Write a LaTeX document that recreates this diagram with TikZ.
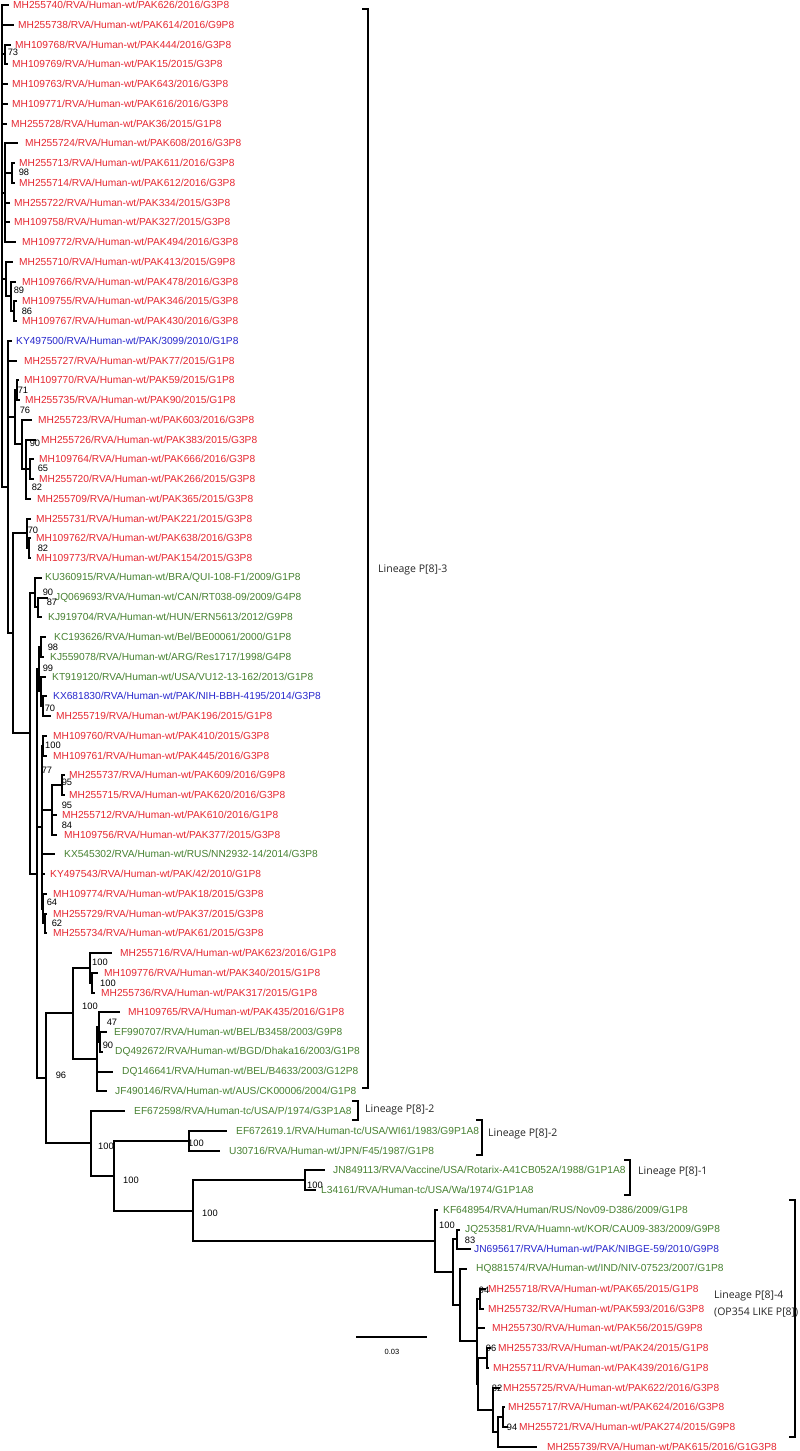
\documentclass[tikz,border=0pt]{standalone}
\usepackage{fontspec}
\setmainfont{Liberation Sans}
\newfontfamily\linfont{Open Sans}
\usetikzlibrary{calc}
\definecolor{tred}{RGB}{230,40,50}
\definecolor{tgreen}{RGB}{72,130,50}
\definecolor{tblue}{RGB}{40,40,205}
\tikzset{
  br/.style={line width=2.0pt},
  brk/.style={line width=2.2pt},
  lab/.style={font=\fontsize{10.2}{12}\selectfont, inner sep=0pt, anchor=west},
  bs/.style={font=\fontsize{9.3}{10}\selectfont, inner sep=0pt},
  lin/.style={font=\linfont\fontsize{10.5}{12}\selectfont, inner sep=0pt, anchor=west, text=black!85},
}
\newcommand{\lf}[5]{\pgfmathsetmacro{\yy}{5+(#1-1)*19.75}%
  \coordinate (t#1) at (#2,\yy);
  \node[lab,text=#4] (l#1) at (#3,\yy) {#5};}
\newcommand{\inode}[4]{\path let \p1=(#3), \p2=(#4) in coordinate (#1) at (#2pt,{(\y1+\y2)/2});}
\newcommand{\kids}[2]{\foreach \c in {#2} {\draw[br] (#1) |- (\c);}}
\begin{document}
\begin{tikzpicture}[x=1pt,y=-1pt]
\fill[white] (0,0) rectangle (800,1451);
\useasboundingbox (0,0) rectangle (800,1451);
% ---------------- leaves ----------------
\lf{1}{9}{13}{tred}{MH255740/RVA/Human-wt/PAK626/2016/G3P8}
\lf{2}{14}{18}{tred}{MH255738/RVA/Human-wt/PAK614/2016/G9P8}
\lf{3}{11}{15}{tred}{MH109768/RVA/Human-wt/PAK444/2016/G3P8}
\lf{4}{8}{12}{tred}{MH109769/RVA/Human-wt/PAK15/2015/G3P8}
\lf{5}{8}{12}{tred}{MH109763/RVA/Human-wt/PAK643/2016/G3P8}
\lf{6}{8}{12}{tred}{MH109771/RVA/Human-wt/PAK616/2016/G3P8}
\lf{7}{7}{11}{tred}{MH255728/RVA/Human-wt/PAK36/2015/G1P8}
\lf{8}{18}{25}{tred}{MH255724/RVA/Human-wt/PAK608/2016/G3P8}
\lf{9}{15}{19}{tred}{MH255713/RVA/Human-wt/PAK611/2016/G3P8}
\lf{10}{15}{19}{tred}{MH255714/RVA/Human-wt/PAK612/2016/G3P8}
\lf{11}{10}{14}{tred}{MH255722/RVA/Human-wt/PAK334/2015/G3P8}
\lf{12}{10}{14}{tred}{MH109758/RVA/Human-wt/PAK327/2015/G3P8}
\lf{13}{16}{22}{tred}{MH109772/RVA/Human-wt/PAK494/2016/G3P8}
\lf{14}{13}{19}{tred}{MH255710/RVA/Human-wt/PAK413/2015/G9P8}
\lf{15}{16}{22}{tred}{MH109766/RVA/Human-wt/PAK478/2016/G3P8}
\lf{16}{17}{22}{tred}{MH109755/RVA/Human-wt/PAK346/2015/G3P8}
\lf{17}{17}{22}{tred}{MH109767/RVA/Human-wt/PAK430/2016/G3P8}
\lf{18}{12}{16}{tblue}{KY497500/RVA/Human-wt/PAK/3099/2010/G1P8}
\lf{19}{17}{24}{tred}{MH255727/RVA/Human-wt/PAK77/2015/G1P8}
\lf{20}{19}{24}{tred}{MH109770/RVA/Human-wt/PAK59/2015/G1P8}
\lf{21}{20}{25}{tred}{MH255735/RVA/Human-wt/PAK90/2015/G1P8}
\lf{22}{32}{38}{tred}{MH255723/RVA/Human-wt/PAK603/2016/G3P8}
\lf{23}{36}{41}{tred}{MH255726/RVA/Human-wt/PAK383/2015/G3P8}
\lf{24}{34}{39}{tred}{MH109764/RVA/Human-wt/PAK666/2016/G3P8}
\lf{25}{34}{39}{tred}{MH255720/RVA/Human-wt/PAK266/2015/G3P8}
\lf{26}{31}{37}{tred}{MH255709/RVA/Human-wt/PAK365/2015/G3P8}
\lf{27}{31}{36}{tred}{MH255731/RVA/Human-wt/PAK221/2015/G3P8}
\lf{28}{31}{36}{tred}{MH109762/RVA/Human-wt/PAK638/2016/G3P8}
\lf{29}{31}{36}{tred}{MH109773/RVA/Human-wt/PAK154/2015/G3P8}
\lf{30}{42}{45}{tgreen}{KU360915/RVA/Human-wt/BRA/QUI-108-F1/2009/G1P8}
\lf{31}{48}{55}{tgreen}{JQ069693/RVA/Human-wt/CAN/RT038-09/2009/G4P8}
\lf{32}{42}{48}{tgreen}{KJ919704/RVA/Human-wt/HUN/ERN5613/2012/G9P8}
\lf{33}{46}{54}{tgreen}{KC193626/RVA/Human-wt/Bel/BE00061/2000/G1P8}
\lf{34}{44}{50}{tgreen}{KJ559078/RVA/Human-wt/ARG/Res1717/1998/G4P8}
\lf{35}{46}{52}{tgreen}{KT919120/RVA/Human-wt/USA/VU12-13-162/2013/G1P8}
\lf{36}{47}{53}{tblue}{KX681830/RVA/Human-wt/PAK/NIH-BBH-4195/2014/G3P8}
\lf{37}{51}{56}{tred}{MH255719/RVA/Human-wt/PAK196/2015/G1P8}
\lf{38}{47}{53}{tred}{MH109760/RVA/Human-wt/PAK410/2015/G3P8}
\lf{39}{47}{53}{tred}{MH109761/RVA/Human-wt/PAK445/2016/G3P8}
\lf{40}{65}{69}{tred}{MH255737/RVA/Human-wt/PAK609/2016/G9P8}
\lf{41}{65}{69}{tred}{MH255715/RVA/Human-wt/PAK620/2016/G3P8}
\lf{42}{57}{62}{tred}{MH255712/RVA/Human-wt/PAK610/2016/G1P8}
\lf{43}{57}{64}{tred}{MH109756/RVA/Human-wt/PAK377/2015/G3P8}
\lf{44}{55}{64}{tgreen}{KX545302/RVA/Human-wt/RUS/NN2932-14/2014/G3P8}
\lf{45}{45}{50}{tred}{KY497543/RVA/Human-wt/PAK/42/2010/G1P8}
\lf{46}{47}{53}{tred}{MH109774/RVA/Human-wt/PAK18/2015/G3P8}
\lf{47}{47}{53}{tred}{MH255729/RVA/Human-wt/PAK37/2015/G3P8}
\lf{48}{47}{53}{tred}{MH255734/RVA/Human-wt/PAK61/2015/G3P8}
\lf{49}{112}{120}{tred}{MH255716/RVA/Human-wt/PAK623/2016/G1P8}
\lf{50}{98}{104}{tred}{MH109776/RVA/Human-wt/PAK340/2015/G1P8}
\lf{51}{95}{101}{tred}{MH255736/RVA/Human-wt/PAK317/2015/G1P8}
\lf{52}{120}{128}{tred}{MH109765/RVA/Human-wt/PAK435/2016/G1P8}
\lf{53}{107}{114}{tgreen}{EF990707/RVA/Human-wt/BEL/B3458/2003/G9P8}
\lf{54}{103}{115}{tgreen}{DQ492672/RVA/Human-wt/BGD/Dhaka16/2003/G1P8}
\lf{55}{113}{122}{tgreen}{DQ146641/RVA/Human-wt/BEL/B4633/2003/G12P8}
\lf{56}{107}{115}{tgreen}{JF490146/RVA/Human-wt/AUS/CK00006/2004/G1P8}
\lf{57}{125}{134}{tgreen}{EF672598/RVA/Human-tc/USA/P/1974/G3P1A8}
\lf{58}{227}{236}{tgreen}{EF672619.1/RVA/Human-tc/USA/WI61/1983/G9P1A8}
\lf{59}{220}{229}{tgreen}{U30716/RVA/Human-wt/JPN/F45/1987/G1P8}
\lf{60}{325}{333}{tgreen}{JN849113/RVA/Vaccine/USA/Rotarix-A41CB052A/1988/G1P1A8}
\lf{61}{316}{321}{tgreen}{L34161/RVA/Human-tc/USA/Wa/1974/G1P1A8}
\lf{62}{438}{443}{tgreen}{KF648954/RVA/Human/RUS/Nov09-D386/2009/G1P8}
\lf{63}{460}{465}{tgreen}{JQ253581/RVA/Huamn-wt/KOR/CAU09-383/2009/G9P8}
\lf{64}{471}{474}{tblue}{JN695617/RVA/Human-wt/PAK/NIBGE-59/2010/G9P8}
\lf{65}{467}{476}{tgreen}{HQ881574/RVA/Human-wt/IND/NIV-07523/2007/G1P8}
\lf{66}{486}{488}{tred}{MH255718/RVA/Human-wt/PAK65/2015/G1P8}
\lf{67}{484}{488}{tred}{MH255732/RVA/Human-wt/PAK593/2016/G3P8}
\lf{68}{485}{492}{tred}{MH255730/RVA/Human-wt/PAK56/2015/G9P8}
\lf{69}{491}{498}{tred}{MH255733/RVA/Human-wt/PAK24/2015/G1P8}
\lf{70}{489}{493}{tred}{MH255711/RVA/Human-wt/PAK439/2016/G1P8}
\lf{71}{500}{503}{tred}{MH255725/RVA/Human-wt/PAK622/2016/G3P8}
\lf{72}{505}{508}{tred}{MH255717/RVA/Human-wt/PAK624/2016/G3P8}
\lf{73}{508}{519}{tred}{MH255721/RVA/Human-wt/PAK274/2015/G9P8}
\lf{74}{537}{547}{tred}{MH255739/RVA/Human-wt/PAK615/2016/G1G3P8}
% ---------------- internal nodes (bottom-up) ----------------
\inode{N73}{5}{t3}{t4}
\inode{N98}{12}{t9}{t10}
\inode{Na}{5}{t8}{t13}
\inode{N86}{14}{t16}{t17}
\inode{N89}{11}{t15}{N86}
\inode{Nb}{6}{t14}{N89}
\inode{N71}{17}{t20}{t21}
\inode{N65}{30}{t24}{t25}
\inode{N26}{26}{t23}{t26}
\inode{N22}{22}{t22}{N26}
\inode{N76}{15}{N71}{N22}
\inode{N82b}{29}{t28}{t29}
\inode{N70}{27}{t27}{N82b}
\inode{N87}{38}{t31}{t32}
\inode{N90m}{35}{t30}{N87}
\inode{N98m}{41}{t33}{t34}
\inode{N70m}{43}{t36}{t37}
\inode{N99}{41}{t35}{N70m}
\inode{N99x}{39}{N98m}{N99}
\inode{N100m}{43}{t38}{t39}
\inode{N95a}{62}{t40}{t41}
\inode{N84}{52}{N95a}{t43}
\inode{N62}{45}{t47}{t48}
\inode{N64}{43}{t46}{N62}
\inode{N77}{42}{N100m}{N64}
\inode{N100c}{92}{t50}{t51}
\inode{N100b}{90}{t49}{N100c}
\inode{N90b}{100}{t53}{t54}
\inode{N47}{99}{t52}{N90b}
\inode{N47g}{97}{N47}{t56}
\inode{N100a}{73}{N100b}{N47g}
\inode{N100e}{189}{t58}{t59}
\inode{N100g}{305}{t60}{t61}
\inode{N100h}{457}{t63}{t64}
\inode{N94a}{480}{t66}{t67}
\inode{N96}{487}{t69}{t70}
\inode{N94b}{503}{t72}{t73}
\inode{K4}{498}{N94b}{t74}
\inode{K3}{493}{t71}{K4}
\inode{K2b}{478}{N96}{K3}
\inode{K2}{477}{N94a}{K2b}
\inode{K1}{460}{t65}{K2}
\inode{Q4}{453}{N100h}{K1}
\inode{P4}{435}{t62}{Q4}
\inode{N100f}{193}{N100g}{P4}
\inode{N100d}{114}{N100e}{N100f}
\inode{Nlow}{91}{t57}{N100d}
\inode{R1}{46}{N100a}{Nlow}
\inode{S}{37}{N99x}{R1}
\inode{Q}{30}{N90m}{S}
\inode{L2}{13}{N70}{Q}
\inode{L1}{8}{t18}{L2}
\inode{ROOT}{2}{t1}{L1}
% ---------------- branches ----------------
\kids{ROOT}{t1,t2,N73,t5,t6,t7,Na,Nb,L1}
\kids{N73}{t3,t4}
\kids{Na}{t8,N98,t11,t12,t13}
\kids{N98}{t9,t10}
\kids{Nb}{t14,N89}
\kids{N89}{t15,N86}
\kids{N86}{t16,t17}
\kids{L1}{t18,t19,N76,L2}
\kids{N76}{N71,N22}
\kids{N71}{t20,t21}
\kids{N22}{t22,N26}
\kids{N26}{t23,N65,t26}
\kids{N65}{t24,t25}
\kids{L2}{N70,Q}
\kids{N70}{t27,N82b}
\kids{N82b}{t28,t29}
\kids{Q}{N90m,S}
\kids{N90m}{t30,N87}
\kids{N87}{t31,t32}
\kids{S}{N99x,N77,R1}
\kids{N99x}{N98m,N99}
\kids{N98m}{t33,t34}
\kids{N99}{t35,N70m}
\kids{N70m}{t36,t37}
\kids{N77}{N100m,N84,t44,t45,N64}
\kids{N100m}{t38,t39}
\kids{N84}{N95a,t42,t43}
\kids{N95a}{t40,t41}
\kids{N64}{t46,N62}
\kids{N62}{t47,t48}
\kids{R1}{N100a,Nlow}
\kids{N100a}{N100b,N47g}
\kids{N100b}{t49,N100c}
\kids{N100c}{t50,t51}
\kids{N47g}{N47,t55,t56}
\kids{N47}{t52,N90b}
\kids{N90b}{t53,t54}
\kids{Nlow}{t57,N100d}
\kids{N100d}{N100e,N100f}
\kids{N100e}{t58,t59}
\kids{N100f}{N100g,P4}
\kids{N100g}{t60,t61}
\kids{P4}{t62,Q4}
\kids{Q4}{N100h,K1}
\kids{N100h}{t63,t64}
\kids{K1}{t65,K2}
\kids{K2}{N94a,t68,K2b}
\kids{N94a}{t66,t67}
\kids{K2b}{N96,K3}
\kids{N96}{t69,t70}
\kids{K3}{t71,K4}
\kids{K4}{N94b,t74}
\kids{N94b}{t72,t73}
% ---------------- bootstrap values ----------------
\node[bs] (b1) at (13,52) {73};
\node[bs] (b2) at (24,172) {98};
\node[bs] (b3) at (19,290) {89};
\node[bs] (b4) at (27,311) {86};
\node[bs] (b5) at (23,390) {71};
\node[bs] (b6) at (25,410) {76};
\node[bs] (b7) at (35,443) {90};
\node[bs] (b8) at (43,468) {65};
\node[bs] (b9) at (37,487) {82};
\node[bs] (b10) at (33,530) {70};
\node[bs] (b11) at (43,548) {82};
\node[bs] (b12) at (48,592) {90};
\node[bs] (b13) at (52,602) {87};
\node[bs] (b14) at (53,647) {98};
\node[bs] (b15) at (48,668) {99};
\node[bs] (b16) at (50,708) {70};
\node[bs] (b17) at (53,745) {100};
\node[bs] (b18) at (47,770) {77};
\node[bs] (b19) at (67,782) {95};
\node[bs] (b20) at (67,805) {95};
\node[bs] (b21) at (67,825) {84};
\node[bs] (b22) at (52,902) {64};
\node[bs] (b23) at (57,923) {62};
\node[bs] (b24) at (100,962) {100};
\node[bs] (b25) at (108,983) {100};
\node[bs] (b26) at (90,1006) {100};
\node[bs] (b27) at (112,1022) {47};
\node[bs] (b28) at (108,1045) {90};
\node[bs] (b29) at (61,1075) {96};
\node[bs] (b30) at (106,1146) {100};
\node[bs] (b31) at (196,1143) {100};
\node[bs] (b32) at (131,1180) {100};
\node[bs] (b33) at (315,1185) {100};
\node[bs] (b34) at (210,1213) {100};
\node[bs] (b35) at (447,1225) {100};
\node[bs] (b36) at (470,1240) {83};
\node[bs] (b37) at (484,1290) {94};
\node[bs] (b38) at (491,1348) {96};
\node[bs] (b39) at (497,1388) {82};
\node[bs] (b40) at (512,1427) {94};
% ---------------- lineage brackets ----------------
\coordinate (g3a) at (362,9);   \coordinate (g3b) at (368,9);
\coordinate (g3c) at (368,1088); \coordinate (g3d) at (362,1088);
\draw[brk] (g3a) -- (g3b) -- (g3c) -- (g3d);
\node[lin] (L3) at (378,570) {Lineage P[8]-3};
\coordinate (g2a) at (352,1101); \coordinate (g2b) at (358,1101);
\coordinate (g2c) at (358,1120); \coordinate (g2d) at (352,1120);
\draw[brk] (g2a) -- (g2b) -- (g2c) -- (g2d);
\node[lin] (L2a) at (365,1110) {Lineage P[8]-2};
\coordinate (h2a) at (476,1120); \coordinate (h2b) at (482,1120);
\coordinate (h2c) at (482,1155); \coordinate (h2d) at (476,1155);
\draw[brk] (h2a) -- (h2b) -- (h2c) -- (h2d);
\node[lin] (L2b) at (488,1134) {Lineage P[8]-2};
\coordinate (g1a) at (624,1160); \coordinate (g1b) at (630,1160);
\coordinate (g1c) at (630,1195); \coordinate (g1d) at (624,1195);
\draw[brk] (g1a) -- (g1b) -- (g1c) -- (g1d);
\node[lin] (L1t) at (638,1172) {Lineage P[8]-1};
\coordinate (g4a) at (789,1200); \coordinate (g4b) at (795,1200);
\coordinate (g4c) at (795,1437); \coordinate (g4d) at (789,1437);
\draw[brk] (g4a) -- (g4b) -- (g4c) -- (g4d);
\node[lin] (L4a) at (714,1296) {Lineage P[8]-4};
\node[lin] (L4b) at (714,1313) {(OP354 LIKE P[8])};
% ---------------- scale bar ----------------
\coordinate (sb1) at (356,1337); \coordinate (sb2) at (427,1337);
\draw[line width=1.6pt] (sb1) -- (sb2);
\node[font=\fontsize{7.5}{9}\selectfont, inner sep=0pt] (sbl) at (392,1352) {0.03};
\end{tikzpicture}
\end{document}
